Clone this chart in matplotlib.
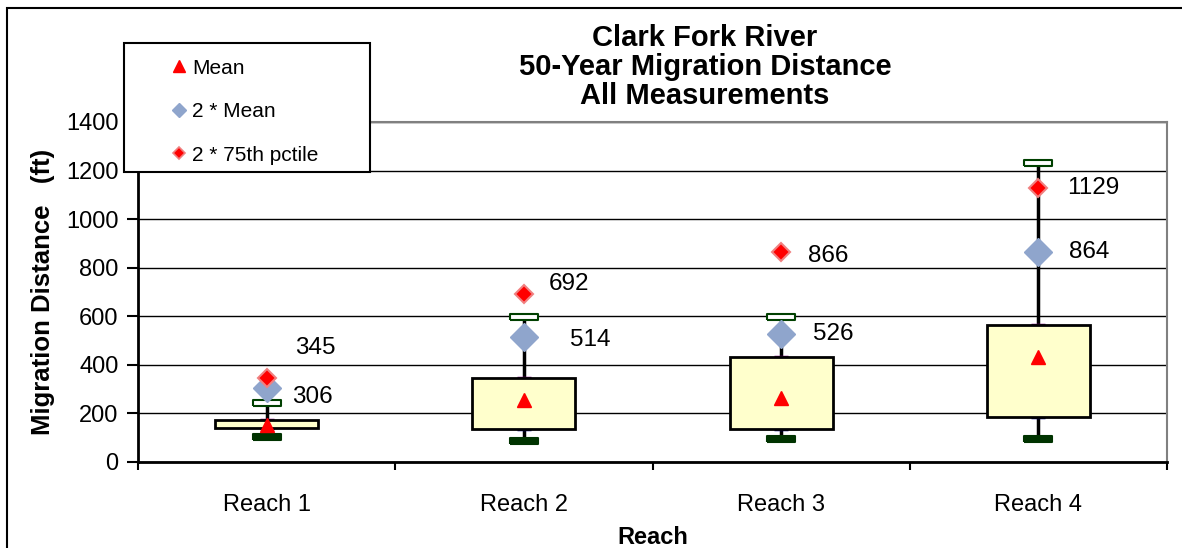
import numpy as np
import matplotlib.pyplot as plt
from matplotlib.patches import Rectangle
from matplotlib.path import Path
from matplotlib.lines import Line2D

plt.rcParams['font.family'] = ['Liberation Sans', 'DejaVu Sans']

reaches = ['Reach 1', 'Reach 2', 'Reach 3', 'Reach 4']
mean = [153, 257, 263, 432]
two_mean = [306, 514, 526, 864]
two_p75 = [345, 692, 866, 1129]
q1 = [140, 136, 136, 186]
q3 = [173, 346, 433, 565]
whisk_lo = [103, 87, 95, 95]
whisk_hi = [243, 598, 598, 1233]

x = np.arange(len(reaches))

fig = plt.figure(figsize=(11.82, 5.48), dpi=100)
ax = fig.add_axes([138/1182, 1-462/548, (1167-138)/1182, (462-122)/548])

# whiskers and box
ax.vlines(x, whisk_lo, whisk_hi, color='black', lw=2.5, zorder=2)
ax.bar(x, np.array(q3) - np.array(q1), bottom=q1, width=0.4,
       color='#FFFFCC', edgecolor='black', lw=2, zorder=3)

cap = Path([[-1, -0.2], [1, -0.2], [1, 0.2], [-1, 0.2], [-1, -0.2]])
ax.plot(x, whisk_hi, ls='none', marker=cap, ms=20, mfc='white', mec='#004000', mew=1.5, zorder=4)
ax.plot(x, whisk_lo, ls='none', marker=cap, ms=20, mfc='#003300', mec='#003300', mew=1.5, zorder=4)
ax.plot(x, q3, ls='none', marker='_', ms=10, mec='#800080', mew=2.5, zorder=2.5)
ax.plot(x, q1, ls='none', marker='_', ms=10, mec='#000080', mew=2.5, zorder=2.5)

ax.plot(x, mean, ls='none', marker='^', ms=10, color='red', zorder=5)
ax.plot(x, two_mean, ls='none', marker='D', ms=14.5, mfc='#8FA5CC', mec='#8FA5CC', zorder=5)
ax.plot(x, two_p75, ls='none', marker='D', ms=9.5, mfc='red', mec='#F08080', mew=1.5, zorder=6)

# data labels (offsets in pixels from the marker)
off_p75 = [(28, 30), (25, 10), (27, -4), (29, 0)]
off_mean = [(25, -9), (46, -3), (32, 0), (31, 0)]
for i in range(len(x)):
    ax.annotate(str(two_p75[i]), (x[i], two_p75[i]), xytext=off_p75[i], textcoords='offset pixels',
                ha='left', va='center', fontsize=17.5, zorder=7)
    ax.annotate(str(two_mean[i]), (x[i], two_mean[i]), xytext=off_mean[i], textcoords='offset pixels',
                ha='left', va='center', fontsize=17.5, zorder=7)

ax.set_xlim(-0.5, 3.5)
ax.set_ylim(0, 1400)
ax.set_yticks(np.arange(0, 1401, 200))
ax.set_xticks(x)
ax.set_xticklabels(reaches)
ax.set_xticks(np.arange(-0.5, 3.6, 1), minor=True)
ax.tick_params(axis='x', which='major', length=0, pad=23, labelsize=17)
ax.tick_params(axis='x', which='minor', length=6, width=1.5, direction='out')
ax.tick_params(axis='y', length=8, width=1.5, direction='out', labelsize=17, pad=6)
ax.grid(axis='y', color='black', lw=1, zorder=0)
ax.set_axisbelow(True)
for s in ['top', 'right']:
    ax.spines[s].set_color('#808080')
    ax.spines[s].set_linewidth(1.5)
for s in ['left', 'bottom']:
    ax.spines[s].set_linewidth(2)

ax.set_xlabel('Reach', fontsize=17, fontweight='bold', labelpad=7)
ax.set_ylabel('Migration Distance   (ft)', fontsize=18.5, fontweight='bold', labelpad=8)

fig.text(705/1182, 1-67/548, 'Clark Fork River\n50-Year Migration Distance\nAll Measurements',
         ha='center', va='center', fontsize=21, fontweight='bold', linespacing=1.05)

# legend box
fig.patches.append(Rectangle((124/1182, 1-172/548), 246/1182, 129/548, transform=fig.transFigure,
                             facecolor='white', edgecolor='black', lw=1.5, zorder=5))
handles = [Line2D([], [], ls='none', marker='^', ms=9, color='red'),
           Line2D([], [], ls='none', marker='D', ms=7, mfc='#8FA5CC', mec='#8FA5CC'),
           Line2D([], [], ls='none', marker='D', ms=6, mfc='red', mec='#F08080', mew=1.2)]
leg = fig.legend(handles, ['Mean', '2 * Mean', '2 * 75th pctile'], loc='upper left',
                 bbox_to_anchor=(152/1182, 1-40/548), frameon=False, fontsize=15,
                 handlelength=0.8, handletextpad=0.22, labelspacing=1.17)
leg.set_zorder(6)

# outer chart border
fig.patches.append(Rectangle((7/1182, -0.1), 1.2, 1.1 - 8/548, transform=fig.transFigure,
                             facecolor='none', edgecolor='black', lw=1.5, zorder=1))

fig.savefig('out.png', dpi=100)
